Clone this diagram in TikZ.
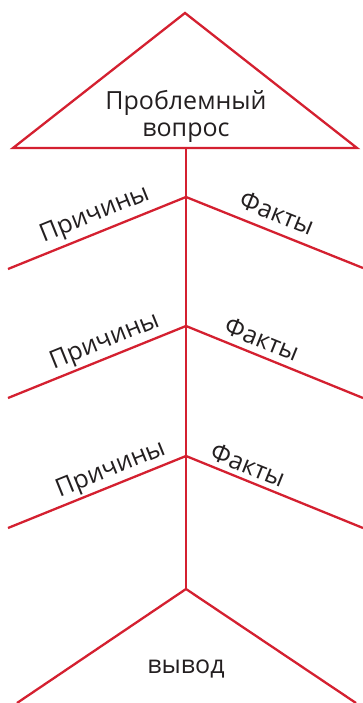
\documentclass[tikz,border=0pt]{standalone}
\usepackage{fontspec}
\setmainfont{Open Sans}
\definecolor{fbred}{HTML}{D42030}
\definecolor{fbtext}{HTML}{231F20}
\tikzset{
  bone/.style={draw=fbred, line width=2.3pt, line cap=butt, line join=miter},
  lbl/.style={text=fbtext, font=\fontsize{25}{28}\selectfont, inner sep=0pt},
}
\begin{document}
\begin{tikzpicture}[x=1pt,y=-1pt]
\useasboundingbox (0,0) rectangle (363,703);
% head triangle
\coordinate (apex) at (185,13);
\coordinate (bl) at (13,148);
\coordinate (br) at (357,148);
\coordinate (top) at (186,148);
\draw[bone] (bl) -- (apex) -- (br) -- cycle;
\node[lbl, align=center] (q) at (186,116) {Проблемный\\[-1pt]вопрос};
% spine
\coordinate (j1) at (186,197);
\coordinate (j2) at (186,326);
\coordinate (j3) at (186,456);
\coordinate (tail) at (186,589);
\draw[bone] (top) -- (tail);
% branches
\coordinate (l1) at (8,269);   \coordinate (r1) at (363,268);
\coordinate (l2) at (8,398);   \coordinate (r2) at (363,398);
\coordinate (l3) at (8,528);   \coordinate (r3) at (363,528);
\draw[bone] (l1) -- (j1) -- (r1);
\draw[bone] (l2) -- (j2) -- (r2);
\draw[bone] (l3) -- (j3) -- (r3);
\node[lbl, rotate=22] (p1) at (95,215) {Причины};
\node[lbl, rotate=-22] (f1) at (277,213) {Факты};
\node[lbl, rotate=22] (p2) at (105,342) {Причины};
\node[lbl, rotate=-22] (f2) at (262,339) {Факты};
\node[lbl, rotate=22] (p3) at (111,470) {Причины};
\node[lbl, rotate=-22] (f3) at (248,465) {Факты};
% tail
\coordinate (bl2) at (17,703);
\coordinate (br2) at (356,703);
\draw[bone] (bl2) -- (tail) -- (br2);
\node[lbl] (v) at (186,669) {вывод};
\end{tikzpicture}
\end{document}
